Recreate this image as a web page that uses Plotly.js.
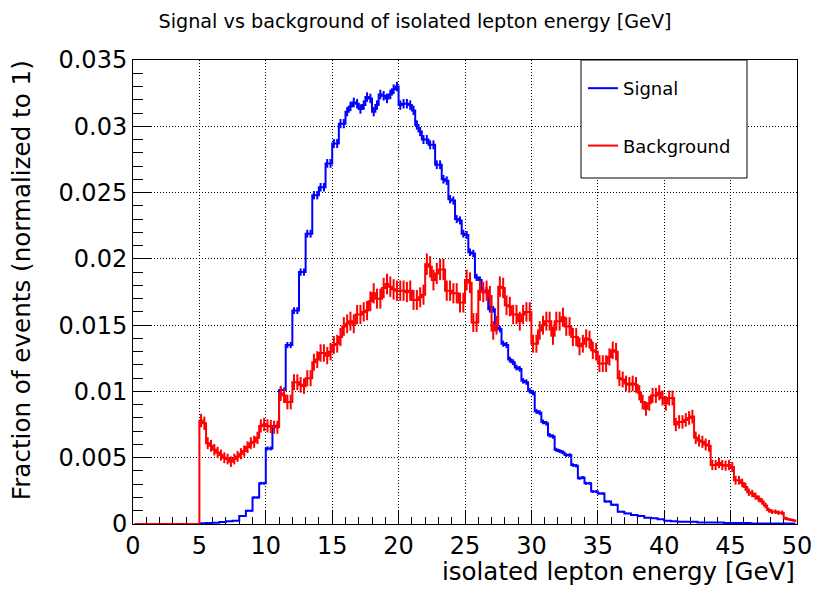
<!DOCTYPE html>
<html>
<head>
<meta charset="utf-8">
<script src="https://cdn.plot.ly/plotly-3.0.1.min.js"></script>
<style>
  html, body { margin: 0; padding: 0; background: #fff; }
  #chart { width: 830px; height: 596px; }
</style>
</head>
<body>
<div id="chart"></div>
<script>
// ---- Histogram binning (ROOT TH1: 200 bins from 0 to 50 GeV) ----
const X_MIN = 0;
const X_MAX = 50;
const N_BINS = 200;

// ---- Bin contents, in units of 1e-3 ----
const signalValues = [
  0,0,0,0,0,0,0,0,0,0,0,0,0,0,0,0,0,0,0,0,
  0.05,0.05,0.07,0.07,0.1,0.1,0.15,0.15,0.2,0.2,0.25,0.25,
  0.6,0.6,1.0,1.0,2.0,2.0,3.07,3.07,5.7,5.7,7.4,7.4,
  10.1,10.1,13.5,13.5,16.1,16.1,19.0,19.0,21.9,21.9,24.8,24.8,
  25.4,25.4,27.2,27.2,28.7,28.7,30.2,30.2,
  31.1,31.5,31.8,31.7,31.3,31.6,32.2,32.1,31.1,31.6,32.4,32.3,
  32.1,32.4,32.8,33.0,31.6,31.7,31.7,31.6,31.2,30.1,29.6,29.0,
  29.0,28.6,28.6,27.1,27.1,26.0,25.9,24.5,24.4,23.0,22.9,21.9,
  21.8,20.5,20.4,18.6,18.4,17.6,17.6,16.2,16.2,14.8,14.7,13.6,
  13.5,12.4,12.2,11.8,11.7,10.8,10.7,10.05,9.9,8.5,8.4,7.7,
  7.6,6.7,6.6,5.6,5.5,5.4,5.2,5.2,4.45,4.4,3.45,3.5,
  3.07,3.07,2.45,2.45,2.3,2.3,1.7,1.7,1.45,1.45,0.93,0.93,
  0.8,0.8,0.68,0.68,0.6,0.6,0.48,0.48,0.43,0.43,0.35,0.35,
  0.25,0.25,0.2,0.2,0.17,0.17,0.17,0.17,0.17,0.17,0.12,0.12,
  0.12,0.12,0.12,0.12,0.12,0.12,0.07,0.07,0.07,0.07,0.07,0.07,
  0.07,0.07,0.04,0.04,0.04,0.04,0.04,0.04,0.04,0.04,0.04,0.04,0.04,0.04,0.04,0.04
];

const backgroundValues = [
  0,0,0,0,0,0,0,0,0,0,0,0,0,0,0,0,0,0,0,0,
  7.8,7.6,6.1,5.9,5.6,5.4,5.2,5.0,4.9,4.7,4.9,5.1,
  5.3,5.5,5.8,6.1,6.2,6.5,7.4,7.5,7.4,7.35,7.3,7.3,
  9.85,9.7,9.2,9.2,10.7,10.7,10.5,10.4,11.0,11.0,12.2,12.4,
  12.9,12.9,12.7,13.0,13.5,13.6,14.1,14.9,15.1,15.3,15.1,15.8,
  15.8,16.0,16.1,16.8,17.4,17.0,17.0,17.8,18.1,17.9,17.7,17.6,
  17.6,17.6,17.5,17.6,16.9,16.9,17.1,17.3,19.6,19.4,18.4,18.9,
  19.2,19.2,17.6,17.6,17.4,17.4,16.7,16.7,18.4,18.2,15.2,15.2,
  17.6,17.5,17.6,17.2,14.6,15.0,17.9,17.8,16.5,16.4,15.8,15.8,
  15.3,15.8,16.0,16.0,13.6,13.6,14.6,15.0,15.3,15.3,14.2,15.3,
  15.3,15.6,14.9,14.9,14.1,14.1,13.4,13.6,14.0,13.9,13.1,13.0,
  12.1,12.1,12.1,12.6,13.1,13.0,11.0,10.9,10.6,10.5,10.6,10.5,
  9.9,9.2,8.7,9.1,9.7,9.7,9.9,9.5,9.1,9.5,9.5,7.5,
  7.7,7.7,7.85,8.0,8.1,6.5,6.3,6.2,6.0,5.9,4.45,4.45,
  4.6,4.45,4.4,4.45,4.3,3.3,3.3,3.1,2.8,2.4,2.3,2.1,
  1.9,1.7,1.4,1.05,0.93,0.93,0.85,0.85,0.43,0.35,0.3,0.25
];
const VALUE_UNIT = 1e-3;

// Poisson errors of a normalised histogram: err = sqrt(content / N_entries)
const signalEntries = 250000;
const backgroundEntries = 30000;

// ---- Labels ----
const seriesNames = ["Signal", "Background"];
const seriesColors = ["#0000ff", "#ff0000"];
const titleText = "Signal vs background of isolated lepton energy [GeV]";
const xTitleText = "isolated lepton energy [GeV]";
const yTitleText = "Fraction of events (normalized to 1)";
const yTickVals = [0, 0.005, 0.01, 0.015, 0.02, 0.025, 0.03, 0.035];
const yTickLabels = ["0", "0.005", "0.01", "0.015", "0.02", "0.025", "0.03", "0.035"];

// ---- Build traces ----
const binWidth = (X_MAX - X_MIN) / N_BINS;
const binCenters = Array.from({length: N_BINS}, (_, i) => X_MIN + (i + 0.5) * binWidth);
const FONT = "DejaVu Sans";

function histTrace(values, entries, name, color) {
  const y = values.map(v => v * VALUE_UNIT);
  const err = y.map(v => Math.sqrt(v / entries));
  return {
    type: "scatter",
    mode: "lines",
    x: binCenters,
    y: y,
    name: name,
    legendgroup: name,
    line: {color: color, width: 2, shape: "hvh"},
    error_y: {type: "data", array: err, visible: true, color: color, thickness: 2, width: 0},
    hoverinfo: "skip"
  };
}

const traces = [
  histTrace(signalValues, signalEntries, seriesNames[0], seriesColors[0]),
  histTrace(backgroundValues, backgroundEntries, seriesNames[1], seriesColors[1])
];

const axisCommon = {
  showline: true, linecolor: "#000", linewidth: 1, mirror: true,
  showgrid: true, gridcolor: "#000", gridwidth: 1, griddash: "1px,2px",
  zeroline: false, ticks: "inside", tickcolor: "#000", tickwidth: 1,
  tickfont: {family: FONT, size: 24, color: "#000"},
  layer: "below traces", automargin: false, fixedrange: true
};

const layout = {
  width: 830, height: 596,
  margin: {l: 133, r: 33, t: 60, b: 72},
  paper_bgcolor: "#fff", plot_bgcolor: "#fff",
  font: {family: FONT, color: "#000"},
  title: {
    text: titleText,
    font: {family: FONT, size: 19.2, color: "#000"},
    x: 0.5, xanchor: "center", y: 1 - 21 / 596, yanchor: "middle"
  },
  xaxis: Object.assign({}, axisCommon, {
    range: [X_MIN, X_MAX],
    tickmode: "linear", tick0: 0, dtick: 5, ticklen: 14, tickangle: 0,
    minor: {tickmode: "linear", tick0: 0, dtick: 1, ticks: "inside", ticklen: 7, tickcolor: "#000", showgrid: false}
  }),
  yaxis: Object.assign({}, axisCommon, {
    range: [0, 0.035],
    tickmode: "array", tickvals: yTickVals, ticktext: yTickLabels, ticklen: 19,
    minor: {tickmode: "linear", tick0: 0, dtick: 0.001, ticks: "inside", ticklen: 10, tickcolor: "#000", showgrid: false}
  }),
  showlegend: true,
  legend: {
    x: 0.6777, xanchor: "left", y: 0.9785, yanchor: "top",
    bgcolor: "rgba(0,0,0,0)", borderwidth: 0,
    font: {family: FONT, size: 18, color: "#000"},
    tracegroupgap: 31, traceorder: "grouped"
  },
  shapes: [{
    type: "rect", xref: "paper", yref: "paper",
    x0: 0.6747, x1: 0.9247, y0: 0.7457, y1: 1.0,
    fillcolor: "#fff", line: {color: "#000", width: 1}, layer: "above"
  }],
  annotations: [
    {
      text: xTitleText, xref: "paper", yref: "paper",
      x: 1, xanchor: "right", y: (524 - 571) / 464, yanchor: "middle",
      showarrow: false, font: {family: FONT, size: 24.5, color: "#000"}
    },
    {
      text: yTitleText, xref: "paper", yref: "paper", textangle: -90,
      x: (21 - 133) / 664, xanchor: "center", y: 1.004, yanchor: "top",
      showarrow: false, font: {family: FONT, size: 24.6, color: "#000"}
    }
  ]
};

Plotly.newPlot("chart", traces, layout, {staticPlot: true, displayModeBar: false});
</script>
</body>
</html>
